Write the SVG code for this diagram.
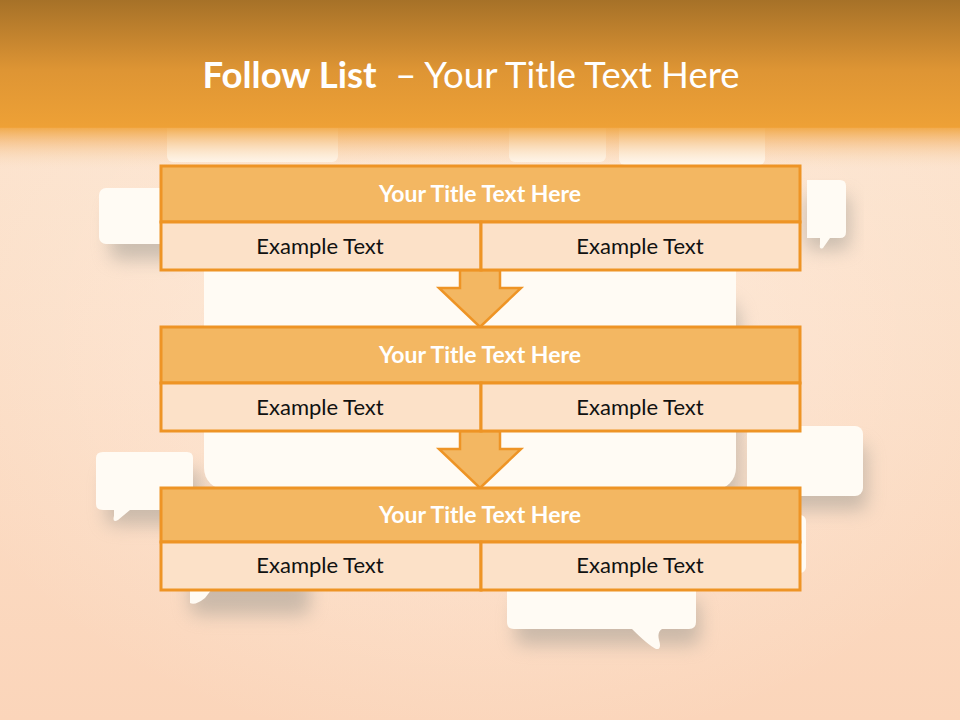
<svg xmlns="http://www.w3.org/2000/svg" width="960" height="720" viewBox="0 0 960 720">
<defs>
<linearGradient id="bg" x1="0" y1="0" x2="0" y2="1">
<stop offset="0" stop-color="#FCE6D2"/>
<stop offset="1" stop-color="#FBD5BA"/>
</linearGradient>
<radialGradient id="bgglow" cx="0.5" cy="0.45" r="0.6">
<stop offset="0" stop-color="#FFF2E6" stop-opacity="0.6"/>
<stop offset="1" stop-color="#FFF2E6" stop-opacity="0"/>
</radialGradient>
<linearGradient id="hdr" x1="0" y1="0" x2="0" y2="1">
<stop offset="0" stop-color="#A67128"/>
<stop offset="0.55" stop-color="#DE9534"/>
<stop offset="1" stop-color="#EEA136"/>
</linearGradient>
<linearGradient id="fade" x1="0" y1="0" x2="0" y2="1">
<stop offset="0" stop-color="#F0A33A" stop-opacity="0.9"/>
<stop offset="0.35" stop-color="#F4B46A" stop-opacity="0.55"/>
<stop offset="1" stop-color="#FCE6D2" stop-opacity="0"/>
</linearGradient>
<filter id="sh" x="-30%" y="-30%" width="160%" height="180%">
<feGaussianBlur stdDeviation="9"/>
</filter>
<style>
.bub{fill:#FFFBF4}
.shd{fill:#9B9890;opacity:0.5;filter:url(#sh)}
.ttl{fill:#F3B762;stroke:#EE9425;stroke-width:3}
.cel{fill:#FCE1C8;stroke:#EE9425;stroke-width:3}
.arr{fill:#F3B762;stroke:#EE9425;stroke-width:2.5;stroke-linejoin:miter}
.th{font-family:Lato,"Open Sans",sans-serif;font-weight:bold;font-size:23px;fill:#FFFFFF;text-anchor:middle}
.tx{font-family:Lato,"Open Sans",sans-serif;font-size:22px;fill:#111111;text-anchor:middle}
</style>
</defs>

<!-- background -->
<rect x="0" y="0" width="960" height="720" fill="url(#bg)"/>
<rect x="0" y="0" width="960" height="720" fill="url(#bgglow)"/>

<!-- bubble shadows -->
<rect class="shd" x="110" y="205" width="70" height="55" rx="8"/>
<rect class="shd" x="220" y="300" width="520" height="205" rx="20"/>
<rect class="shd" x="106" y="470" width="95" height="55" rx="8"/>
<rect class="shd" x="757" y="445" width="110" height="65" rx="8"/>
<rect class="shd" x="805" y="195" width="45" height="55" rx="8"/>
<rect class="shd" x="515" y="600" width="185" height="45" rx="8"/>
<rect class="shd" x="190" y="560" width="120" height="55" rx="8"/>

<!-- background bubbles -->
<rect class="bub" x="204" y="250" width="532" height="240" rx="22"/>
<rect class="bub" x="167" y="120" width="171" height="42" rx="6"/>
<rect class="bub" x="509" y="120" width="97" height="42" rx="6"/>
<rect class="bub" x="619" y="120" width="146" height="45" rx="6"/>
<rect class="bub" x="99" y="188" width="100" height="56" rx="7"/>
<path class="bub" d="M807,180 H840 Q846,180 846,186 V232 Q846,238 840,238 H830 L823,248 Q819,250 820,244 L820,238 H807 Z"/>
<path class="bub" d="M103,452 H187 Q193,452 193,458 V504 Q193,510 187,510 H130 L118,520 Q112,523 114,516 L114,510 H103 Q96,510 96,504 V458 Q96,452 103,452 Z"/>
<rect class="bub" x="747" y="426" width="116" height="70" rx="8"/>
<rect class="bub" x="760" y="515" width="46" height="58" rx="6"/>
<path class="bub" d="M514,575 H689 Q696,575 696,582 V622 Q696,629 689,629 H662 Q657,632 659,640 Q662,650 656,649 Q648,645 632,629 H514 Q507,629 507,622 V582 Q507,575 514,575 Z"/>
<path class="bub" d="M190,585 H215 L205,598 Q195,606 190,603 Z"/>

<!-- header -->
<rect x="0" y="0" width="960" height="128" fill="url(#hdr)"/>
<rect x="0" y="127" width="960" height="45" fill="url(#fade)"/>
<text x="471" y="88" font-family="Lato,'Open Sans',sans-serif" font-size="36.5" fill="#FFFFFF" text-anchor="middle"><tspan font-weight="bold">Follow List</tspan><tspan xml:space="preserve">  – Your Title Text Here</tspan></text>

<!-- connectors -->
<g id="connectors">
<path class="arr" d="M460,270 H500 V288 H521 L480,327 L439,288 H460 Z"/>
<path class="arr" d="M460,431 H500 V449 H521 L480,488 L439,449 H460 Z"/>
</g>

<!-- nodes -->
<g id="step1">
<rect class="ttl" x="161" y="166" width="639" height="56"/>
<rect class="cel" x="161" y="222" width="320" height="48"/>
<rect class="cel" x="481" y="222" width="319" height="48"/>
<text class="th" x="480" y="202">Your Title Text Here</text>
<text class="tx" x="320" y="254">Example Text</text>
<text class="tx" x="640" y="254">Example Text</text>
</g>
<g id="step2">
<rect class="ttl" x="161" y="327" width="639" height="56"/>
<rect class="cel" x="161" y="383" width="320" height="48"/>
<rect class="cel" x="481" y="383" width="319" height="48"/>
<text class="th" x="480" y="363">Your Title Text Here</text>
<text class="tx" x="320" y="415">Example Text</text>
<text class="tx" x="640" y="415">Example Text</text>
</g>
<g id="step3">
<rect class="ttl" x="161" y="488" width="639" height="54"/>
<rect class="cel" x="161" y="542" width="320" height="48"/>
<rect class="cel" x="481" y="542" width="319" height="48"/>
<text class="th" x="480" y="523">Your Title Text Here</text>
<text class="tx" x="320" y="573">Example Text</text>
<text class="tx" x="640" y="573">Example Text</text>
</g>
</svg>
